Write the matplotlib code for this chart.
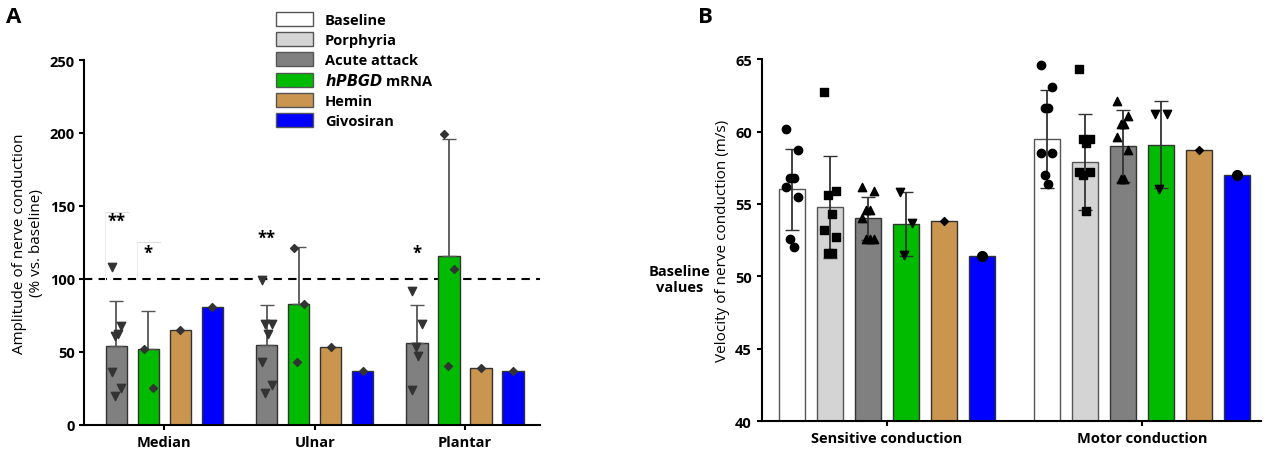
import matplotlib
matplotlib.use("Agg")
import matplotlib.pyplot as plt
from matplotlib.patches import Patch
import numpy as np

plt.rcParams['font.family'] = ['Open Sans', 'DejaVu Sans']

# legend / colors
groups = ["Baseline", "Porphyria", "Acute attack", "hPBGD mRNA", "Hemin", "Givosiran"]
colors = ["#ffffff", "#d4d4d4", "#808080", "#00bb00", "#c9954f", "#0000ff"]

# Panel A: amplitude (% vs baseline); groups: acute, mRNA, hemin, givosiran
nerves = ["Median", "Ulnar", "Plantar"]
amp_mean = [[54, 52, 65, 81], [55, 83, 53, 37], [56, 116, 39, 37]]
amp_sd = [[31, 26, 0, 0], [27, 39, 0, 0], [26, 80, 0, 0]]
amp_points = [
    [[108, 68, 61, 62, 36, 25, 20], [52, 25], [65], [81]],
    [[99, 69, 69, 62, 43, 27, 22], [121, 83, 43], [53], [37]],
    [[92, 69, 53, 47, 24], [199, 107, 40], [39], [37]],
]

# Panel B: velocity (m/s)
cond = ["Sensitive conduction", "Motor conduction"]
vel_mean = [[56.0, 54.8, 54.0, 53.6, 53.8, 51.4], [59.5, 57.9, 59.0, 59.1, 58.7, 57.0]]
vel_sd = [[2.8, 3.5, 1.5, 2.2, 0, 0], [3.4, 3.3, 2.5, 3.0, 0, 0]]
vel_points = [
    [[60.2, 58.7, 56.8, 56.8, 56.2, 55.5, 52.6, 52.0],
     [62.7, 55.9, 55.6, 54.3, 53.2, 52.7, 51.6, 51.6],
     [56.2, 55.9, 54.6, 54.6, 54.0, 52.6, 52.6, 52.6],
     [55.8, 53.7, 51.5], [53.8], [51.4]],
    [[64.6, 63.1, 61.6, 61.6, 58.5, 58.5, 57.0, 56.4],
     [64.3, 59.5, 59.5, 59.2, 57.2, 57.2, 57.0, 54.5],
     [62.1, 61.1, 60.5, 60.5, 59.6, 58.7, 56.7, 56.7],
     [61.2, 61.2, 56.0], [58.7], [57.0]],
]
vel_markers = ["o", "s", "^", "v", "D", "o"]

fig = plt.figure(figsize=(12.8, 4.52), dpi=100)
axA = fig.add_axes([0.066, 0.058, 0.356, 0.807])
axB = fig.add_axes([0.595, 0.066, 0.39, 0.801])


def spread(n, w):
    # simple alternating left/right offsets
    offs = []
    for i in range(n):
        if n == 1:
            offs.append(0)
        else:
            offs.append(w * (1 if i % 2 else -1) * (1 if i % 4 < 2 else 0.3))
    return offs


# ---- Panel A
gap = 4.7
for g in range(3):
    for j in range(4):
        x = g * gap + j - 1.5
        c = colors[j + 2]
        axA.bar(x, amp_mean[g][j], 0.66, color=c, edgecolor="#333333", lw=1, zorder=2)
        if amp_sd[g][j] > 0:
            axA.errorbar(x, amp_mean[g][j], yerr=[[0], [amp_sd[g][j]]], color="#555555",
                         capsize=5, lw=1.3, zorder=3)
        pts = amp_points[g][j]
        m = "v" if j == 0 else "D"
        ms = 6 if j == 0 else 4
        axA.scatter(np.array(spread(len(pts), 0.15)) + x, pts, marker=m, s=ms**2,
                    color="#333333", zorder=4)
stars = [(0, 0, "**", 140, 146), (0, 1, "*", 118, 125), (1, 0, "**", 128, None), (2, 0, "*", 118, None)]
for g, j, s, y, line in stars:
    x = g * gap + j - 1.5
    axA.text(x, y, s, ha="center", va="center", fontsize=12, fontweight="bold")
    if line:
        axA.plot([x - 0.35, x + 0.35], [line, line], color="#dddddd", lw=0.8)
        axA.plot([x - 0.35, x - 0.35], [line, 100], color="#eeeeee", lw=0.8)
axA.axhline(100, ls="--", color="black", lw=1.5, dashes=(4, 3), zorder=1)
axA.text(1.305, 100 / 250, "Baseline\nvalues", transform=axA.transAxes, ha="center",
         va="center", fontsize=10.5, fontweight="bold")
axA.set_xlim(-2.5, 11.75)
axA.set_ylim(0, 250)
axA.set_yticks(range(0, 251, 50))
axA.set_xticks([g * gap for g in range(3)])
axA.set_xticklabels(nerves, fontweight="bold", fontsize=10.5)
axA.set_ylabel("Amplitude of nerve conduction\n(% vs. baseline)", fontsize=11)
for sp in ["top", "right"]:
    axA.spines[sp].set_visible(False)
axA.spines["left"].set_linewidth(1.5)
axA.spines["bottom"].set_linewidth(1.5)
axA.tick_params(labelsize=10.5, width=1.5)
for t in axA.get_yticklabels():
    t.set_fontweight("bold")

# ---- Panel B
gapB = 6.7
for g in range(2):
    for j in range(6):
        x = g * gapB + j - 2.5
        axB.bar(x, vel_mean[g][j], 0.68, color=colors[j],
                edgecolor="#555555" if j < 2 else "#333333", lw=1, zorder=2)
        if vel_sd[g][j] > 0:
            axB.errorbar(x, vel_mean[g][j], yerr=vel_sd[g][j], color="#333333",
                         capsize=5, lw=1.3, zorder=3)
        pts = vel_points[g][j]
        ms = 6 if j < 4 else (4 if j == 4 else 7)
        axB.scatter(np.array(spread(len(pts), 0.15)) + x, pts, marker=vel_markers[j],
                    s=ms**2, color="black", zorder=4)
axB.set_xlim(-3.3, 9.83)
axB.set_ylim(40, 65)
axB.set_xticks([g * gapB for g in range(2)])
axB.set_xticklabels(cond, fontweight="bold", fontsize=10.5)
axB.set_ylabel("Velocity of nerve conduction (m/s)", fontsize=11)
for sp in ["top", "right"]:
    axB.spines[sp].set_visible(False)
axB.spines["left"].set_linewidth(1.5)
axB.spines["bottom"].set_linewidth(1.5)
axB.tick_params(labelsize=10.5, width=1.5)
for t in axB.get_yticklabels():
    t.set_fontweight("bold")

# legend
handles = [Patch(facecolor=c, edgecolor="#555555") for c in colors]
labels = ["Baseline", "Porphyria", "Acute attack", "$\\bfit{hPBGD}$ mRNA", "Hemin", "Givosiran"]
leg = fig.legend(handles, labels, loc="upper left", bbox_to_anchor=(0.205, 1.0),
                 frameon=False, handlelength=2.6, handleheight=1.1,
                 labelspacing=0.35, prop={"weight": "bold", "size": 10.5})

fig.text(0.005, 0.985, "A", fontsize=16, fontweight="bold", va="top")
fig.text(0.545, 0.985, "B", fontsize=16, fontweight="bold", va="top")

fig.savefig("out.png", dpi=100)
